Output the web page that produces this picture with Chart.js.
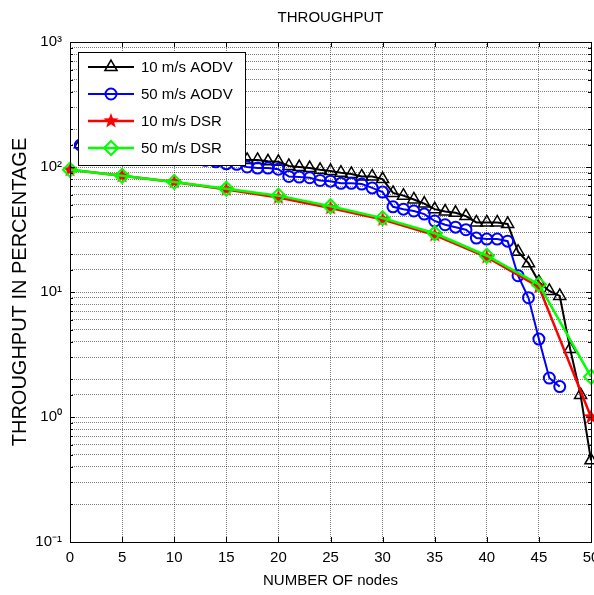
<!DOCTYPE html>
<html>
<head>
<meta charset="utf-8">
<script src="https://cdn.jsdelivr.net/npm/chart.js@4/dist/chart.umd.min.js"></script>
<style>
  html, body { margin: 0; padding: 0; background: #fff; }
  canvas { display: block; }
</style>
</head>
<body>
<canvas id="throughputChart" width="594" height="595"></canvas>
<script>
// AODV runs were logged at every node count, DSR only every 5 nodes
const aodvNodes10 = [1,2,3,4,5,6,7,8,9,10,11,12,13,14,15,16,17,18,19,20,21,22,23,24,25,
  26,27,28,29,30,31,32,33,34,35,36,37,38,39,40,41,42,43,44,45,46,47,48,49,50];
const aodv10 = [152,148,145,142,139,136,133,130,128,126,124,122,120,118,117,116,114,114,111,110,
  102,100,98,95,93,90,88,84,84,80,62,59,55,51,46,44,43,40.5,36,36,36,35,21,17,12,10.2,9.3,3.5,1.5,0.45];

const aodvNodes50 = [1,2,3,4,5,6,7,8,9,10,11,12,13,14,15,16,17,18,19,20,21,22,23,24,25,
  26,27,28,29,30,31,32,33,34,35,36,37,38,39,40,41,42,43,44,45,46,47];
const aodv50 = [150,146,142,139,136,133,130,127,124,121,119,116,113,110,106,105,100,98,98,96,
  84,83,82,78,77,74,74,73,68,63,48,46,44.5,42,37,34.5,33,31.5,27,26.5,26.5,25.5,13.5,9,4.2,2.05,1.75];

const dsrNodes = [0,5,10,15,20,25,30,35,40,45,50];
const dsr10 = [95,85,76,66,57,47,38,28.5,19,11,1.0];
const dsr50 = [95,85,76,67,59,48.5,39,29.5,19.5,11.5,2.1];

const yTicks = [0.1, 1, 10, 100, 1000];
const yTickLabels = ['10\u207B\u00B9', '10\u2070', '10\u00B9', '10\u00B2', '10\u00B3'];

const FONT = '"Liberation Sans", Arial, sans-serif';
const gridColor = 'rgba(0,0,0,0.5)';

function makeStar(size, color) {
  const c = document.createElement('canvas');
  c.width = c.height = size;
  const g = c.getContext('2d');
  const r = size / 2, ri = r * 0.42;
  g.beginPath();
  for (let i = 0; i < 10; i++) {
    const a = -Math.PI / 2 + i * Math.PI / 5;
    const rr = i % 2 ? ri : r;
    g.lineTo(r + rr * Math.cos(a), r + rr * Math.sin(a));
  }
  g.closePath();
  g.fillStyle = color;
  g.fill();
  return c;
}
const redStar = makeStar(16, '#ff0000');

function toPoints(xs, ys) {
  return xs.map((x, i) => ({x: x, y: ys[i]}));
}

function drawMarker(ctx, ds, x, y) {
  const r = ds.pointRadius;
  ctx.save();
  ctx.strokeStyle = ds.pointBorderColor;
  ctx.lineWidth = ds.pointBorderWidth;
  ctx.beginPath();
  if (ds.pointStyle === 'triangle') {
    for (let k = 0; k < 3; k++) {
      const a = k * 2 * Math.PI / 3;
      ctx.lineTo(x + Math.sin(a) * r, y - Math.cos(a) * r);
    }
    ctx.closePath();
    ctx.stroke();
  } else if (ds.pointStyle === 'circle') {
    ctx.arc(x, y, r, 0, 2 * Math.PI);
    ctx.stroke();
  } else if (ds.pointStyle === 'rectRot') {
    ctx.moveTo(x, y - r); ctx.lineTo(x + r, y); ctx.lineTo(x, y + r); ctx.lineTo(x - r, y);
    ctx.closePath();
    ctx.stroke();
  } else {
    ctx.drawImage(ds.pointStyle, x - ds.pointStyle.width / 2, y - ds.pointStyle.height / 2);
  }
  ctx.restore();
}

// boxed legend drawn over the lines, like the original figure
const legendBox = {
  id: 'legendBox',
  afterDatasetsDraw(chart) {
    const ctx = chart.ctx;
    const area = chart.chartArea;
    const x0 = area.left + 8, y0 = area.top + 10, w = 167, h = 113;
    ctx.save();
    ctx.fillStyle = '#fff';
    ctx.fillRect(x0, y0, w, h);
    ctx.strokeStyle = '#000';
    ctx.lineWidth = 1;
    ctx.strokeRect(x0 + 0.5, y0 + 0.5, w, h);
    ctx.font = '15px ' + FONT;
    ctx.textBaseline = 'middle';
    chart.data.datasets.forEach((ds, i) => {
      const y = y0 + 15 + i * 27;
      ctx.strokeStyle = ds.borderColor;
      ctx.lineWidth = ds.borderWidth;
      ctx.beginPath();
      ctx.moveTo(x0 + 10, y);
      ctx.lineTo(x0 + 56, y);
      ctx.stroke();
      drawMarker(ctx, ds, x0 + 33, y);
      ctx.fillStyle = '#000';
      ctx.fillText(ds.label, x0 + 63, y + 1);
    });
    ctx.restore();
  }
};

// axes box with inward tick marks on all four sides
const axesFrame = {
  id: 'axesFrame',
  afterDraw(chart) {
    const ctx = chart.ctx;
    const a = chart.chartArea;
    const xs = chart.scales.x, ys = chart.scales.y;
    ctx.save();
    ctx.strokeStyle = '#000';
    ctx.lineWidth = 1;
    ctx.beginPath();
    xs.ticks.forEach(t => {
      const px = Math.round(xs.getPixelForValue(t.value)) + 0.5;
      ctx.moveTo(px, a.bottom); ctx.lineTo(px, a.bottom - 5);
      ctx.moveTo(px, a.top); ctx.lineTo(px, a.top + 5);
    });
    ys.ticks.forEach(t => {
      const py = Math.round(ys.getPixelForValue(t.value)) + 0.5;
      const len = yTicks.some(v => Math.abs(v - t.value) < v * 1e-6) ? 5 : 3;
      ctx.moveTo(a.left, py); ctx.lineTo(a.left + len, py);
      ctx.moveTo(a.right, py); ctx.lineTo(a.right - len, py);
    });
    ctx.stroke();
    ctx.strokeRect(Math.round(a.left) + 0.5, Math.round(a.top) + 0.5,
      Math.round(a.right - a.left), Math.round(a.bottom - a.top));
    ctx.restore();
  }
};

const throughputChart = new Chart(document.getElementById('throughputChart'), {
  type: 'line',
  data: {
    datasets: [
      {
        label: '10 m/s AODV',
        data: toPoints(aodvNodes10, aodv10),
        borderColor: '#000000', borderWidth: 2,
        pointStyle: 'triangle', pointRadius: 7, pointBorderWidth: 1.5,
        pointBorderColor: '#000000', pointBackgroundColor: 'rgba(0,0,0,0)',
        order: 4
      },
      {
        label: '50 m/s AODV',
        data: toPoints(aodvNodes50, aodv50),
        borderColor: '#0000ff', borderWidth: 2,
        pointStyle: 'circle', pointRadius: 5.5, pointBorderWidth: 2,
        pointBorderColor: '#0000ff', pointBackgroundColor: 'rgba(0,0,0,0)',
        order: 3
      },
      {
        label: '10 m/s DSR',
        data: toPoints(dsrNodes, dsr10),
        borderColor: '#ff0000', borderWidth: 2.5,
        pointStyle: redStar, pointRadius: 8, pointBorderWidth: 1,
        pointBorderColor: '#ff0000', pointBackgroundColor: '#ff0000',
        order: 2
      },
      {
        label: '50 m/s DSR',
        data: toPoints(dsrNodes, dsr50),
        borderColor: '#00ff00', borderWidth: 2.5,
        pointStyle: 'rectRot', pointRadius: 7, pointBorderWidth: 2,
        pointBorderColor: '#00ff00', pointBackgroundColor: 'rgba(0,0,0,0)',
        order: 1
      }
    ]
  },
  options: {
    responsive: false,
    animation: false,
    devicePixelRatio: 1,
    clip: false,
    layout: { autoPadding: false, padding: { left: 0, right: 3, top: 0, bottom: 0 } },
    plugins: {
      legend: { display: false },
      tooltip: { enabled: false },
      title: {
        display: true,
        text: 'THROUGHPUT',
        fullSize: false,
        color: '#000',
        font: { family: FONT, size: 15, weight: 'normal' },
        padding: { top: 9, bottom: 15 }
      }
    },
    scales: {
      x: {
        type: 'linear',
        min: 0,
        max: 50,
        ticks: {
          stepSize: 5, autoSkip: false, maxRotation: 0, padding: 7,
          color: '#000', font: { family: FONT, size: 15 }
        },
        grid: { color: gridColor, drawTicks: false, lineWidth: 1 },
        border: { display: false, dash: [1, 1] },
        title: {
          display: true, text: 'NUMBER OF nodes', color: '#000',
          font: { family: FONT, size: 15 }, padding: { top: 0, bottom: 5 }
        },
        afterFit(scale) {
          scale.height = 53;
          scale.paddingLeft = 0;
          scale.paddingRight = 0;
        }
      },
      y: {
        type: 'logarithmic',
        min: 0.1,
        max: 1000,
        ticks: {
          autoSkip: false, padding: 8, color: '#000',
          font: { family: FONT, size: 15 },
          callback(value) {
            const i = yTicks.findIndex(v => Math.abs(v - value) < v * 1e-6);
            return i >= 0 ? yTickLabels[i] : '';
          }
        },
        grid: { color: gridColor, drawTicks: false, lineWidth: 1 },
        border: { display: false, dash: [1, 1] },
        title: {
          display: true, text: 'THROUGHPUT IN PERCENTAGE', color: '#000',
          font: { family: FONT, size: 20 }, padding: { top: 8, bottom: 0 }
        },
        afterFit(scale) {
          scale.width = 70;
        }
      }
    }
  },
  plugins: [legendBox, axesFrame]
});
</script>
</body>
</html>
